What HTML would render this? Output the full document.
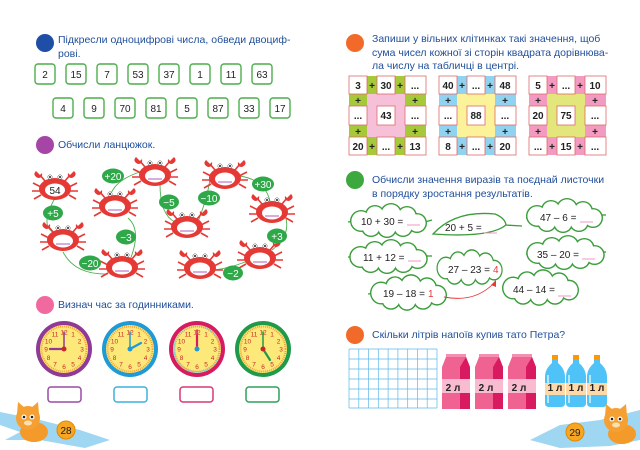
<!DOCTYPE html>
<html><head><meta charset="utf-8"><style>
html,body{margin:0;padding:0;background:#fff;}
svg{display:block;font-family:"Liberation Sans",sans-serif;}
.h{font-size:10.5px;fill:#1f4e9a;}
.bx{font-size:10px;fill:#222;text-anchor:middle;}
.cl{font-size:10px;font-weight:bold;fill:#222;text-anchor:middle;}
.gl{font-size:10px;fill:#fff;text-anchor:middle;}
.lf{font-size:10px;fill:#222;}
.cn{font-size:6.5px;fill:#c62828;text-anchor:middle;}
</style></head><body>
<svg width="640" height="450" viewBox="0 0 640 450" xmlns="http://www.w3.org/2000/svg">
<defs>
<g id="crab">
  <g stroke="#e53935" stroke-width="1.6" fill="none">
    <path d="M-14,-2 L-22,-6 M-15,2 L-23,2 M-14,6 L-21,10 M14,-2 L22,-6 M15,2 L23,2 M14,6 L21,10"/>
    <path d="M-10,-8 L-15,-14 M10,-8 L15,-14"/>
  </g>
  <path d="M-19,-18 q-4,4 2,7 q5,0 4,-5 l-2,2z" fill="#e53935"/>
  <path d="M19,-18 q4,4 -2,7 q-5,0 -4,-5 l2,2z" fill="#e53935"/>
  <ellipse cx="0" cy="0" rx="16" ry="11" fill="#e53935"/>
  <ellipse cx="0" cy="1" rx="10" ry="6.5" fill="#fff"/>
  <circle cx="-5" cy="-12" r="2.2" fill="#fff" stroke="#555" stroke-width=".5"/>
  <circle cx="5" cy="-12" r="2.2" fill="#fff" stroke="#555" stroke-width=".5"/>
  <circle cx="-5" cy="-12" r="1" fill="#222"/>
  <circle cx="5" cy="-12" r="1" fill="#222"/>
</g>
<g id="cloudS">
  <g fill="#3a9d3a">
   <circle cx="-28" cy="0" r="11"/><circle cx="-14" cy="-6" r="10"/><circle cx="2" cy="-7" r="11"/><circle cx="18" cy="-5" r="10"/><circle cx="28" cy="2" r="10"/><circle cx="14" cy="6" r="10"/><circle cx="-2" cy="7" r="10"/><circle cx="-18" cy="6" r="10"/>
  </g>
  <g fill="#fff">
   <circle cx="-28" cy="0" r="9.6"/><circle cx="-14" cy="-6" r="8.6"/><circle cx="2" cy="-7" r="9.6"/><circle cx="18" cy="-5" r="8.6"/><circle cx="28" cy="2" r="8.6"/><circle cx="14" cy="6" r="8.6"/><circle cx="-2" cy="7" r="8.6"/><circle cx="-18" cy="6" r="8.6"/>
   <ellipse cx="0" cy="0" rx="30" ry="9"/>
  </g>
</g>
<g id="tick">
  <line x1="0" y1="-22" x2="0" y2="-20" stroke="#c62828" stroke-width=".6"/>
</g>
<g id="face">
  <circle r="24" fill="#fde97a"/>
  <circle r="22.5" fill="none" stroke="#f4a23a" stroke-width="2" stroke-dasharray="1 1"/>
  <text class="cn" x="0" y="-14.5">12</text><text class="cn" x="9" y="-12.5">1</text><text class="cn" x="15.5" y="-5.5">2</text>
  <text class="cn" x="18" y="2.5">3</text><text class="cn" x="15.5" y="11">4</text><text class="cn" x="9" y="17.5">5</text>
  <text class="cn" x="0" y="20">6</text><text class="cn" x="-9" y="17.5">7</text><text class="cn" x="-15.5" y="11">8</text>
  <text class="cn" x="-18" y="2.5">9</text><text class="cn" x="-15.5" y="-5.5">10</text><text class="cn" x="-9" y="-12.5">11</text>
</g>
<g id="carton">
  <path d="M0,10 L4,0 L24,0 L28,10 L28,52 L0,52Z" fill="#f06292"/>
  <path d="M18,10 L24,0 L28,10 L28,52 L18,52Z" fill="#d81b60"/>
  <rect x="0" y="22" width="28" height="14" fill="#f8bbd0"/>
  <rect x="4" y="-3" width="20" height="3" fill="#f48fb1"/>
</g>
<g id="bottle">
  <rect x="-3" y="0" width="6" height="4" fill="#ff9800"/>
  <path d="M-3,4 L3,4 L3,8 Q10,14 10,22 L10,48 Q10,52 6,52 L-6,52 Q-10,52 -10,48 L-10,22 Q-10,14 -3,8Z" fill="#4fc3f7"/>
  <path d="M-7,20 L-7,48" stroke="#b3e5fc" stroke-width="2"/>
  <rect x="-10" y="28" width="20" height="12" fill="#ffd8a8"/>
</g>
<g id="cat">
  <ellipse cx="6" cy="14" rx="14" ry="10" fill="#f39a2a"/>
  <circle cx="0" cy="0" r="12" fill="#f5a033"/>
  <path d="M-11,-4 L-10,-16 L-3,-10Z M11,-4 L10,-16 L3,-10Z" fill="#f5a033"/>
  <circle cx="-4" cy="-1" r="2.5" fill="#fff"/><circle cx="4" cy="-1" r="2.5" fill="#fff"/>
  <circle cx="-4" cy="-1" r="1.3" fill="#222"/><circle cx="4" cy="-1" r="1.3" fill="#222"/>
  <ellipse cx="0" cy="5" rx="4" ry="2.5" fill="#fde0b0"/>
</g>
</defs>

<!-- LEFT PAGE -->
<circle cx="45" cy="43" r="9" fill="#1f4ea6"/>
<text class="h" x="58" y="43">Підкресли одноцифрові числа, обведи двоциф-</text>
<text class="h" x="58" y="57">рові.</text>
<g fill="#fff" stroke="#4cae4c" stroke-width="1.4">
<rect x="35" y="64" width="20" height="20" rx="3"/><rect x="66" y="64" width="20" height="20" rx="3"/><rect x="97" y="64" width="20" height="20" rx="3"/><rect x="128" y="64" width="20" height="20" rx="3"/><rect x="159" y="64" width="20" height="20" rx="3"/><rect x="190" y="64" width="20" height="20" rx="3"/><rect x="221" y="64" width="20" height="20" rx="3"/><rect x="252" y="64" width="20" height="20" rx="3"/>
<rect x="53" y="98" width="20" height="20" rx="3"/><rect x="84" y="98" width="20" height="20" rx="3"/><rect x="115" y="98" width="20" height="20" rx="3"/><rect x="146" y="98" width="20" height="20" rx="3"/><rect x="177" y="98" width="20" height="20" rx="3"/><rect x="208" y="98" width="20" height="20" rx="3"/><rect x="239" y="98" width="20" height="20" rx="3"/><rect x="270" y="98" width="20" height="20" rx="3"/>
</g>
<text class="bx" x="45" y="78">2</text><text class="bx" x="76" y="78">15</text><text class="bx" x="107" y="78">7</text><text class="bx" x="138" y="78">53</text><text class="bx" x="169" y="78">37</text><text class="bx" x="200" y="78">1</text><text class="bx" x="231" y="78">11</text><text class="bx" x="262" y="78">63</text>
<text class="bx" x="63" y="112">4</text><text class="bx" x="94" y="112">9</text><text class="bx" x="125" y="112">70</text><text class="bx" x="156" y="112">81</text><text class="bx" x="187" y="112">5</text><text class="bx" x="218" y="112">87</text><text class="bx" x="249" y="112">33</text><text class="bx" x="280" y="112">17</text>

<circle cx="45" cy="145" r="9" fill="#a545a6"/>
<text class="h" x="58" y="148">Обчисли ланцюжок.</text>
<g fill="none" stroke="#4caf50" stroke-width=".9">
<path d="M55,198 Q40,225 53,232"/>
<path d="M63,252 Q75,275 108,274"/>
<path d="M130,260 Q142,230 128,218"/>
<path d="M110,196 Q115,180 140,172"/>
<path d="M160,184 Q160,215 175,222"/>
<path d="M198,222 Q210,190 210,175"/>
<path d="M240,176 Q265,180 270,201"/>
<path d="M285,215 Q292,235 272,250"/>
<path d="M245,262 Q230,268 214,270"/>
</g>
<use href="#crab" x="55" y="189"/><use href="#crab" x="63" y="240"/><use href="#crab" x="122" y="267"/><use href="#crab" x="115" y="206"/><use href="#crab" x="155" y="175"/><use href="#crab" x="187" y="227"/><use href="#crab" x="225" y="178"/><use href="#crab" x="272" y="212"/><use href="#crab" x="260" y="258"/><use href="#crab" x="200" y="268"/>
<text class="bx" x="55" y="194">54</text>
<g stroke="#b05ab8" stroke-width="1"><line x1="108" y1="210" x2="122" y2="210"/><line x1="148" y1="179" x2="162" y2="179"/><line x1="180" y1="231" x2="194" y2="231"/><line x1="218" y1="182" x2="232" y2="182"/><line x1="265" y1="216" x2="279" y2="216"/><line x1="253" y1="262" x2="267" y2="262"/><line x1="193" y1="272" x2="207" y2="272"/><line x1="115" y1="271" x2="129" y2="271"/><line x1="56" y1="244" x2="70" y2="244"/></g>
<g fill="#2fa84a">
<ellipse cx="53" cy="213" rx="10" ry="7.5"/><ellipse cx="90" cy="263" rx="11" ry="7.5"/><ellipse cx="126" cy="237" rx="10" ry="7.5"/><ellipse cx="113" cy="176" rx="11" ry="7.5"/><ellipse cx="169" cy="202" rx="10" ry="7.5"/><ellipse cx="209" cy="198" rx="11" ry="7.5"/><ellipse cx="263" cy="184" rx="11" ry="7.5"/><ellipse cx="277" cy="236" rx="10" ry="7.5"/><ellipse cx="233" cy="273" rx="10" ry="7.5"/>
</g>
<text class="gl" x="53" y="217">+5</text><text class="gl" x="90" y="267">−20</text><text class="gl" x="126" y="241">−3</text><text class="gl" x="113" y="180">+20</text><text class="gl" x="169" y="206">−5</text><text class="gl" x="209" y="202">−10</text><text class="gl" x="263" y="188">+30</text><text class="gl" x="277" y="240">+3</text><text class="gl" x="233" y="277">−2</text>

<circle cx="45" cy="305" r="9" fill="#f06aa0"/>
<text class="h" x="58" y="308">Визнач час за годинниками.</text>
<g>
<circle cx="64" cy="349" r="28" fill="#8e3a96"/><use href="#face" x="64" y="349"/>
<circle cx="130" cy="349" r="28" fill="#1e9ad6"/><use href="#face" x="130" y="349"/>
<circle cx="197" cy="349" r="28" fill="#d81b60"/><use href="#face" x="197" y="349"/>
<circle cx="197" cy="349" r="23" fill="none" stroke="#7fc6d6" stroke-width="1.5" stroke-dasharray="1 1"/>
<circle cx="263" cy="349" r="28" fill="#1e9a4a"/><use href="#face" x="263" y="349"/>
</g>
<g stroke-linecap="round">
<line x1="64" y1="349" x2="64" y2="332" stroke="#8e3a96" stroke-width="1.5"/><line x1="64" y1="349" x2="50" y2="349" stroke="#8e3a96" stroke-width="2.2"/>
<line x1="130" y1="349" x2="130" y2="332" stroke="#1e9ad6" stroke-width="1.5"/><line x1="130" y1="349" x2="141" y2="343" stroke="#1e9ad6" stroke-width="2.2"/>
<line x1="197" y1="349" x2="197" y2="330" stroke="#d81b60" stroke-width="1.5"/><line x1="197" y1="349" x2="197" y2="336" stroke="#d81b60" stroke-width="2.2"/>
<line x1="263" y1="349" x2="263" y2="332" stroke="#1e9a4a" stroke-width="1.5"/><line x1="263" y1="349" x2="270" y2="360" stroke="#1e9a4a" stroke-width="2.2"/>
</g>
<circle cx="64" cy="349" r="2.5" fill="#c62828"/><circle cx="130" cy="349" r="2.5" fill="#1e9ad6"/><circle cx="197" cy="349" r="2.5" fill="#1e9ad6"/><circle cx="263" cy="349" r="2.5" fill="#c62828"/>
<g fill="#fff" stroke-width="1.5">
<rect x="48" y="387" width="33" height="15" rx="3" stroke="#9c4aa8"/>
<rect x="114" y="387" width="33" height="15" rx="3" stroke="#3fb0dc"/>
<rect x="180" y="387" width="33" height="15" rx="3" stroke="#d8387a"/>
<rect x="246" y="387" width="33" height="15" rx="3" stroke="#2fa05a"/>
</g>
<path d="M0,412 L40,420 L80,430 L110,440 L85,448 L40,440 L5,440 L20,432 L0,425Z" fill="#9fd6f2"/>
<use href="#cat" x="28" y="418"/>
<circle cx="66" cy="430" r="9" fill="#f6a623" stroke="#e08a00"/>
<text x="66" y="434" font-size="10" text-anchor="middle" fill="#222">28</text>

<!-- RIGHT PAGE -->
<circle cx="355" cy="43" r="9" fill="#f26a2a"/>
<text class="h" x="372" y="42">Запиши у вільних клітинках такі значення, щоб</text>
<text class="h" x="372" y="56">сума чисел кожної зі сторін квадрата дорівнюва-</text>
<text class="h" x="372" y="69">ла числу на табличці в центрі.</text>

<!-- square 1 -->
<g transform="translate(349,76)">
<rect x="18" y="18" width="38" height="43" fill="#f6c0d8"/>
<g fill="#a6c93a"><rect x="18" y="0" width="10" height="18"/><rect x="46" y="0" width="10" height="18"/><rect x="18" y="61" width="10" height="18"/><rect x="46" y="61" width="10" height="18"/><rect x="0" y="18" width="18" height="12"/><rect x="0" y="49" width="18" height="12"/><rect x="56" y="18" width="21" height="12"/><rect x="56" y="49" width="21" height="12"/></g>
<g fill="#fff" stroke="#e06a6a" stroke-width=".8"><rect x="0" y="0" width="18" height="18"/><rect x="28" y="0" width="18" height="18"/><rect x="56" y="0" width="21" height="18"/><rect x="0" y="30" width="18" height="19"/><rect x="56" y="30" width="21" height="19"/><rect x="0" y="61" width="18" height="18"/><rect x="28" y="61" width="18" height="18"/><rect x="56" y="61" width="21" height="18"/><rect x="28" y="30" width="18" height="19"/></g>
<text class="cl" x="9" y="13">3</text><text class="cl" x="23" y="13">+</text><text class="cl" x="37" y="13">30</text><text class="cl" x="51" y="13">+</text><text class="cl" x="66" y="13">...</text>
<text class="cl" x="9" y="28">+</text><text class="cl" x="66" y="28">+</text>
<text class="cl" x="9" y="43">...</text><text class="cl" x="37" y="43">43</text><text class="cl" x="66" y="43">...</text>
<text class="cl" x="9" y="59">+</text><text class="cl" x="66" y="59">+</text>
<text class="cl" x="9" y="74">20</text><text class="cl" x="23" y="74">+</text><text class="cl" x="37" y="74">...</text><text class="cl" x="51" y="74">+</text><text class="cl" x="66" y="74">13</text>
</g>
<!-- square 2 -->
<g transform="translate(439,76)">
<rect x="18" y="18" width="38" height="43" fill="#fbf29a"/>
<g fill="#8fd3f0"><rect x="18" y="0" width="10" height="18"/><rect x="46" y="0" width="10" height="18"/><rect x="18" y="61" width="10" height="18"/><rect x="46" y="61" width="10" height="18"/><rect x="0" y="18" width="18" height="12"/><rect x="0" y="49" width="18" height="12"/><rect x="56" y="18" width="21" height="12"/><rect x="56" y="49" width="21" height="12"/></g>
<g fill="#fff" stroke="#e06a6a" stroke-width=".8"><rect x="0" y="0" width="18" height="18"/><rect x="28" y="0" width="18" height="18"/><rect x="56" y="0" width="21" height="18"/><rect x="0" y="30" width="18" height="19"/><rect x="56" y="30" width="21" height="19"/><rect x="0" y="61" width="18" height="18"/><rect x="28" y="61" width="18" height="18"/><rect x="56" y="61" width="21" height="18"/><rect x="28" y="30" width="18" height="19"/></g>
<text class="cl" x="9" y="13">40</text><text class="cl" x="23" y="13">+</text><text class="cl" x="37" y="13">...</text><text class="cl" x="51" y="13">+</text><text class="cl" x="66" y="13">48</text>
<text class="cl" x="9" y="28">+</text><text class="cl" x="66" y="28">+</text>
<text class="cl" x="9" y="43">...</text><text class="cl" x="37" y="43">88</text><text class="cl" x="66" y="43">...</text>
<text class="cl" x="9" y="59">+</text><text class="cl" x="66" y="59">+</text>
<text class="cl" x="9" y="74">8</text><text class="cl" x="23" y="74">+</text><text class="cl" x="37" y="74">...</text><text class="cl" x="51" y="74">+</text><text class="cl" x="66" y="74">20</text>
</g>
<!-- square 3 -->
<g transform="translate(529,76)">
<rect x="18" y="18" width="38" height="43" fill="#e3e67a"/>
<g fill="#f29ac0"><rect x="18" y="0" width="10" height="18"/><rect x="46" y="0" width="10" height="18"/><rect x="18" y="61" width="10" height="18"/><rect x="46" y="61" width="10" height="18"/><rect x="0" y="18" width="18" height="12"/><rect x="0" y="49" width="18" height="12"/><rect x="56" y="18" width="21" height="12"/><rect x="56" y="49" width="21" height="12"/></g>
<g fill="#fff" stroke="#e06a6a" stroke-width=".8"><rect x="0" y="0" width="18" height="18"/><rect x="28" y="0" width="18" height="18"/><rect x="56" y="0" width="21" height="18"/><rect x="0" y="30" width="18" height="19"/><rect x="56" y="30" width="21" height="19"/><rect x="0" y="61" width="18" height="18"/><rect x="28" y="61" width="18" height="18"/><rect x="56" y="61" width="21" height="18"/><rect x="28" y="30" width="18" height="19"/></g>
<text class="cl" x="9" y="13">5</text><text class="cl" x="23" y="13">+</text><text class="cl" x="37" y="13">...</text><text class="cl" x="51" y="13">+</text><text class="cl" x="66" y="13">10</text>
<text class="cl" x="9" y="28">+</text><text class="cl" x="66" y="28">+</text>
<text class="cl" x="9" y="43">20</text><text class="cl" x="37" y="43">75</text><text class="cl" x="66" y="43">...</text>
<text class="cl" x="9" y="59">+</text><text class="cl" x="66" y="59">+</text>
<text class="cl" x="9" y="74">...</text><text class="cl" x="23" y="74">+</text><text class="cl" x="37" y="74">15</text><text class="cl" x="51" y="74">+</text><text class="cl" x="66" y="74">...</text>
</g>

<circle cx="355" cy="180" r="9" fill="#3da83d"/>
<text class="h" x="372" y="183">Обчисли значення виразів та поєднай листочки</text>
<text class="h" x="372" y="197">в порядку зростання результатів.</text>

<g stroke="#3a9d3a" stroke-width="1.3">
<line x1="348" y1="222" x2="356" y2="221"/><line x1="425" y1="222" x2="432" y2="220"/>
<line x1="348" y1="257" x2="356" y2="257"/><line x1="425" y1="256" x2="432" y2="256"/>
<line x1="526" y1="218" x2="533" y2="217"/><line x1="598" y1="215" x2="606" y2="215"/>
<line x1="526" y1="254" x2="533" y2="254"/><line x1="598" y1="252" x2="606" y2="252"/>
<line x1="502" y1="288" x2="510" y2="288"/><line x1="368" y1="294" x2="376" y2="293"/>
<line x1="505" y1="225" x2="522" y2="226"/>
</g>
<use href="#cloudS" transform="translate(389,221) scale(1,1)"/>
<use href="#cloudS" transform="translate(389,257) scale(1.02,1)"/>
<use href="#cloudS" transform="translate(565,216) scale(1,1)"/>
<use href="#cloudS" transform="translate(566,253) scale(1.02,1)"/>
<use href="#cloudS" transform="translate(470,268) scale(0.86,1.05)"/>
<use href="#cloudS" transform="translate(409,293) scale(1,1.05)"/>
<use href="#cloudS" transform="translate(541,288) scale(1,1.05)"/>
<path d="M433,234 Q455,210 495,214 Q505,218 506,225 Q490,238 433,234Z" fill="#fff" stroke="#3a9d3a" stroke-width="1.3"/>
<g class="lf">
<text class="lf" x="361" y="225">10 + 30 =</text><text class="lf" x="445" y="231">20 + 5 =</text><text class="lf" x="540" y="221">47 – 6 =</text>
<text class="lf" x="363" y="261">11 + 12 =</text><text class="lf" x="537" y="258">35 – 20 =</text>
<text class="lf" x="448" y="273">27 – 23 =</text><text x="493" y="273" font-size="10" fill="#e53935">4</text>
<text class="lf" x="383" y="297">19 – 18 =</text><text x="428" y="297" font-size="10" fill="#e53935">1</text>
<text class="lf" x="513" y="293">44 – 14 =</text>
</g>
<g stroke="#f29ac0" stroke-width="1"><line x1="407" y1="225" x2="420" y2="225"/><line x1="484" y1="233" x2="497" y2="233"/><line x1="580" y1="222" x2="593" y2="222"/><line x1="408" y1="261" x2="421" y2="261"/><line x1="582" y1="259" x2="595" y2="259"/><line x1="558" y1="296" x2="571" y2="296"/></g>
<path d="M444,297 Q475,303 494,283" fill="none" stroke="#e53935" stroke-width=".9"/>
<path d="M491,285 L496,280 L496,287Z" fill="#e53935"/>

<circle cx="355" cy="335" r="9" fill="#f26a2a"/>
<text class="h" x="372" y="338">Скільки літрів напоїв купив тато Петра?</text>
<g stroke="#5bb8e8" stroke-width=".7">
<line x1="349" y1="349" x2="437" y2="349"/><line x1="349" y1="359" x2="437" y2="359"/><line x1="349" y1="369" x2="437" y2="369"/><line x1="349" y1="379" x2="437" y2="379"/><line x1="349" y1="389" x2="437" y2="389"/><line x1="349" y1="399" x2="437" y2="399"/><line x1="349" y1="408" x2="437" y2="408"/>
<line x1="349" y1="349" x2="349" y2="408"/><line x1="358.8" y1="349" x2="358.8" y2="408"/><line x1="368.6" y1="349" x2="368.6" y2="408"/><line x1="378.3" y1="349" x2="378.3" y2="408"/><line x1="388.1" y1="349" x2="388.1" y2="408"/><line x1="397.9" y1="349" x2="397.9" y2="408"/><line x1="407.7" y1="349" x2="407.7" y2="408"/><line x1="417.4" y1="349" x2="417.4" y2="408"/><line x1="427.2" y1="349" x2="427.2" y2="408"/><line x1="437" y1="349" x2="437" y2="408"/>
</g>
<use href="#carton" x="442" y="357"/><use href="#carton" x="475" y="357"/><use href="#carton" x="508" y="357"/>
<text class="cl" x="453" y="391">2 л</text><text class="cl" x="486" y="391">2 л</text><text class="cl" x="519" y="391">2 л</text>
<use href="#bottle" x="555" y="355"/><use href="#bottle" x="576" y="355"/><use href="#bottle" x="597" y="355"/>
<text class="cl" x="555" y="391" font-size="9">1 л</text><text class="cl" x="576" y="391" font-size="9">1 л</text><text class="cl" x="597" y="391" font-size="9">1 л</text>
<path d="M530,440 L560,425 L600,420 L640,410 L640,440 L610,446 L560,448Z" fill="#9fd6f2"/>
<use href="#cat" x="616" y="420"/>
<circle cx="575" cy="432" r="9" fill="#f6a623" stroke="#e08a00"/>
<text x="575" y="436" font-size="10" text-anchor="middle" fill="#222">29</text>
</svg>
</body></html>
